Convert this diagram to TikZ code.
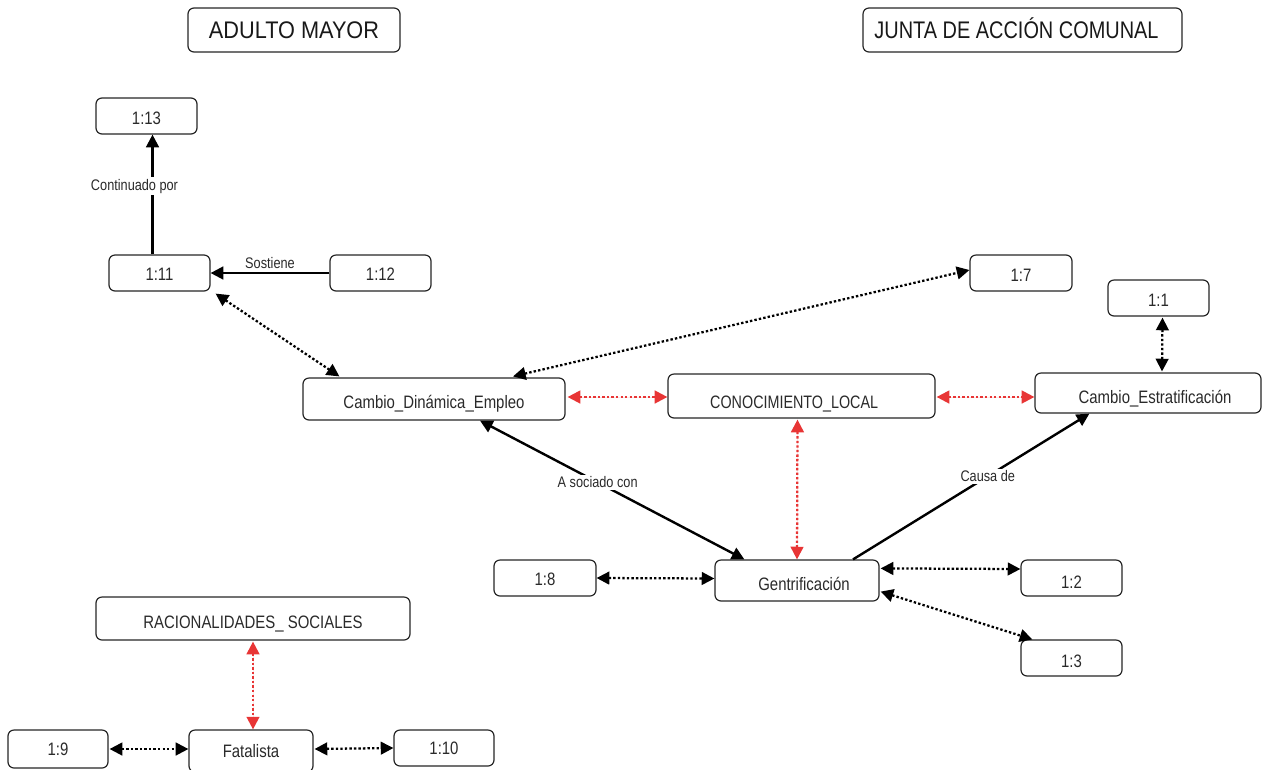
\documentclass[tikz,border=0pt]{standalone}
\usepackage{fontspec}
\setmainfont{Liberation Sans}[FakeStretch=0.83]
\usetikzlibrary{arrows.meta,calc}
\definecolor{redl}{HTML}{E83535}
\definecolor{txt}{HTML}{2A2A2A}
\tikzset{
  box/.style={draw=black!85, line width=0.9pt, rounded corners=4.5pt, fill=white, inner sep=0pt, text=txt, font=\fontsize{13.5}{15}\selectfont, text depth=0pt, text height=9.67pt},
  titlebox/.style={font=\fontsize{18}{20}\selectfont, text=black!90, text height=12.9pt},
  solidone/.style={line width=1.8pt, -{Triangle[length=9.5pt,width=9.5pt]}},
  solidtwo/.style={line width=1.8pt, {Triangle[length=9.5pt,width=9.5pt]}-{Triangle[length=9.5pt,width=9.5pt]}},
  dotblack/.style={line width=1.7pt, dash pattern=on 1.8pt off 1.6pt, {Triangle[length=9.5pt,width=9.5pt]}-{Triangle[length=9.5pt,width=9.5pt]}},
  dotred/.style={dotblack, draw=redl, fill=redl},
  elabel/.style={font=\fontsize{11.5}{13}\selectfont, text=txt, fill=white, inner sep=1.5pt}
}
\newcommand\mybox[7][]{\node[box,minimum width={(#5-#3)*0.75pt},minimum height={(#6-#4)*0.75pt},#1] (#2) at ({(#3+#5)/2},{(#4+#6)/2}) {#7};}
\begin{document}
\begin{tikzpicture}[x=0.75pt,y=-0.75pt]
\useasboundingbox (0,0) rectangle (1263,769);
\mybox[titlebox]{am}{188}{8}{400}{52}{\scalebox{1.09}[1]{ADULTO MAYOR}}
\mybox[titlebox]{jac}{863}{8}{1182}{52}{JUNTA DE ACCIÓN COMUNAL\hspace*{9pt}}
\mybox[text height=13.1pt]{n13}{96}{98}{197}{134}{1:13}
\mybox[text height=10.7pt]{n11}{109}{255}{210}{291}{1:11}
\mybox[text height=10.7pt]{n12}{330}{255}{431}{291}{1:12}
\mybox[text height=13.4pt]{n7}{970}{255}{1072}{291}{1:7}
\mybox[text height=12.7pt]{n1}{1108}{280}{1209}{316}{1:1}
\mybox[text height=14.9pt]{cde}{303}{378}{565}{420}{Cambio\_Dinámica\_Empleo}
\mybox[text height=18.0pt]{con}{668}{374}{935}{418}{\scalebox{0.96}[1]{CONOCIMIENTO\_LOCAL}\hspace*{11pt}}
\mybox[text height=16.4pt]{cest}{1035}{373}{1261}{413}{\hspace*{10.5pt}Cambio\_Estratificación}
\mybox[text height=14.9pt]{gen}{715}{560}{879}{601}{\hspace*{10.5pt}Gentrificación}
\mybox[text height=11.2pt]{n8}{494}{560}{596}{596}{1:8}
\mybox[text height=15.7pt]{n2}{1021}{560}{1122}{596}{1:2}
\mybox[text height=14.9pt]{n3}{1021}{640}{1122}{676}{1:3}
\mybox[text height=15.7pt]{rac}{96}{597}{410}{640}{RACIONALIDADES\_ SOCIALES}
\mybox{n9}{8}{730}{108}{768}{1:9}
\mybox{fat}{189}{730}{313}{772}{Fatalista}
\mybox{n10}{394}{730}{494}{766}{1:10}

% solid connectors
\draw[solidone] ($(n11.north)+(-7,0)$) -- node[elabel,pos=0.57,xshift=-13.5pt]{Continuado por} ($(n13.south)+(6,0)$);
\draw[solidone] (n12.west) -- node[elabel,pos=0.5,above=1pt,fill=none]{Sostiene} (n11.east);
\draw[solidtwo] ($(gen.north west)+(30,0)$) -- node[elabel,pos=0.555]{A sociado con} ($(cde.south)+(46,0)$);
\draw[solidone] ($(gen.north)+(56,0)$) -- node[elabel,pos=0.57]{Causa de} ($(cest.south west)+(55,0)$);

% dotted black
\draw[dotblack] ($(n11.south east)+(5,2)$) -- ($(cde.north west)+(37,-1)$);
\draw[dotblack] ($(cde.north)+(79,-1)$) -- ($(n7.west)+(0,-3)$);
\draw[dotblack] ($(n1.south)+(4,1)$) -- ($(cest.north)+(14,-1)$);
\draw[dotblack] (n8.east) -- ($(gen.west)+(0,-2)$);
\draw[dotblack] ($(gen.north east)+(1,9)$) -- ($(n2.west)+(0,-9)$);
\draw[dotblack] ($(gen.south east)+(1,-10)$) -- ($(n3.north west)+(12,0)$);
\draw[dotblack] ($(n9.east)+(1,0)$) -- ($(fat.west)+(0,-2)$);
\draw[dotblack] ($(fat.east)+(1,-2)$) -- ($(n10.west)+(0,0)$);

% dotted red
\draw[dotred] ($(cde.east)+(2,-2)$) -- ($(con.west)+(0,1)$);
\draw[dotred] ($(con.east)+(1,1)$) -- ($(cest.west)+(0,4)$);
\draw[dotred] ($(con.south)+(-4,1)$) -- (gen.north);
\draw[dotred] ($(rac.south)+(0,1)$) -- ($(fat.north)+(2,0)$);
\end{tikzpicture}
\end{document}
